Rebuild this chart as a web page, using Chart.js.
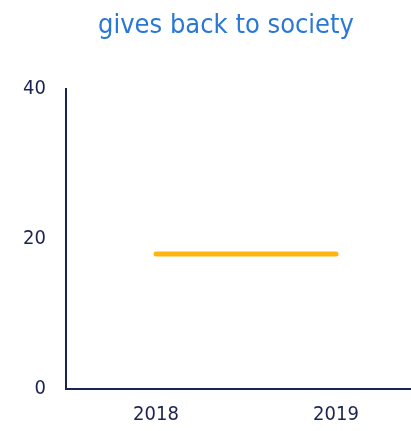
<!DOCTYPE html>
<html>
<head>
<meta charset="utf-8">
<script src="https://cdn.jsdelivr.net/npm/chart.js@4"></script>
<style>
  html, body { margin: 0; padding: 0; overflow: hidden; background: #fff; }
</style>
</head>
<body>
<canvas id="myChart" width="452" height="431"></canvas>
<script>
const years = ['2018', '2019'];
const givesBack = [18, 18];
const yTicks = [0, 20, 40];

const navy = '#1b2450';
const font = 'DejaVu Sans Condensed, DejaVu Sans, sans-serif';

// keep the title centred on the whole canvas, not on the padded area
const fullWidthTitle = {
    id: 'fullWidthTitle',
    afterLayout(chart) {
        const t = chart.titleBlock;
        if (t) {
            t.left = 0;
            t.right = chart.width;
            t.width = chart.width;
        }
    }
};

const ctx = document.getElementById('myChart');

new Chart(ctx, {
    type: 'line',
    data: {
        labels: years,
        datasets: [{
            label: 'gives back to society',
            data: givesBack,
            borderColor: '#ffb511',
            borderWidth: 5,
            borderCapStyle: 'round',
            pointRadius: 0,
            fill: false
        }]
    },
    options: {
        responsive: false,
        animation: false,
        layout: {
            padding: { left: 0, right: 26, top: 0, bottom: 0 }
        },
        plugins: {
            legend: { display: false },
            tooltip: { enabled: false },
            title: {
                display: true,
                text: 'gives back to society',
                color: '#2a78d6',
                font: { family: font, size: 27, weight: 'normal' },
                padding: { top: 10, bottom: 46.6 }
            }
        },
        scales: {
            x: {
                offset: true,
                afterFit: axis => {
                    axis.height = 42;
                },
                grid: { display: false, drawTicks: false },
                border: { display: true, color: navy, width: 2 },
                ticks: {
                    color: navy,
                    padding: 14,
                    font: { family: font, size: 20 }
                }
            },
            y: {
                min: 0,
                max: 40,
                afterBuildTicks: axis => {
                    axis.ticks = yTicks.map(v => ({ value: v }));
                },
                afterFit: axis => {
                    axis.width = 66;
                },
                grid: { display: false, drawTicks: false },
                border: { display: true, color: navy, width: 2 },
                ticks: {
                    color: navy,
                    padding: 20,
                    font: { family: font, size: 20 }
                }
            }
        }
    },
    plugins: [fullWidthTitle]
});
</script>
</body>
</html>
